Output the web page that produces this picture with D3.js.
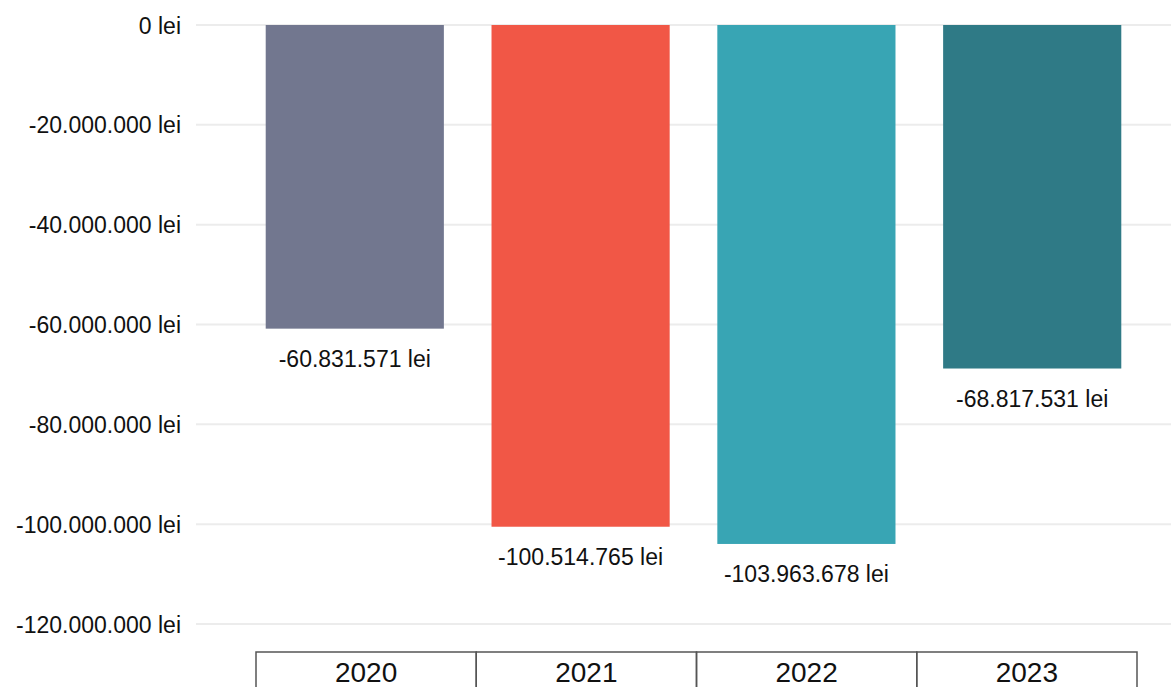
<!DOCTYPE html>
<html><head><meta charset="utf-8">
<script src="https://cdn.jsdelivr.net/npm/d3@7"></script>
<style>html,body{margin:0;padding:0;background:#fff;overflow:hidden}</style>
</head><body>
<svg id="c" width="1171" height="687"></svg>
<script>
const categories = ["2020", "2021", "2022", "2023"];
const values = [-60831571, -100514765, -103963678, -68817531];
const colors = ["#72778f", "#f15746", "#38a5b4", "#2f7a86"];
const yTicks = [0, -20000000, -40000000, -60000000, -80000000, -100000000, -120000000];

const svg = d3.select("#c");
const font = "'Liberation Sans', Arial, sans-serif";

const fmt = v => {
  const s = d3.format(",")(Math.round(v)).replace(/,/g, ".").replace(/\u2212/g, "-");
  return s + " lei";
};

const y = d3.scaleLinear().domain([-120000000, 0]).range([624, 25]);
const x = d3.scaleBand().domain(categories).range([242, 1145]).paddingInner(0.211).paddingOuter(0.105);
const xt = d3.scaleBand().domain(categories).range([256, 1137]);

// gridlines
svg.append("g").selectAll("line").data(yTicks).join("line")
  .attr("x1", 196).attr("x2", 1171)
  .attr("y1", d => y(d)).attr("y2", d => y(d))
  .attr("stroke", "#ececec").attr("stroke-width", 2);

// y axis labels
const yAxis = d3.axisLeft(y).tickValues(yTicks).tickFormat(fmt).tickSize(0).tickPadding(0);
const ga = svg.append("g").attr("transform", "translate(181,0)").call(yAxis);
ga.select(".domain").remove();
ga.selectAll("text").attr("font-family", font).attr("font-size", 23).attr("fill", "#111").attr("dy", "0.35em");

// bars
svg.append("g").selectAll("rect").data(categories).join("rect")
  .attr("x", d => x(d)).attr("width", x.bandwidth())
  .attr("y", (d, i) => y(0)).attr("height", (d, i) => y(values[i]) - y(0))
  .attr("fill", (d, i) => colors[i]);

// value labels
svg.append("g").selectAll("text").data(categories).join("text")
  .attr("x", d => x(d) + x.bandwidth() / 2)
  .attr("y", (d, i) => y(values[i]) + 38)
  .attr("text-anchor", "middle")
  .attr("font-family", font).attr("font-size", 23).attr("fill", "#111")
  .text((d, i) => fmt(values[i]));

// category table
const tb = svg.append("g");
tb.selectAll("rect").data(categories).join("rect")
  .attr("x", d => xt(d)).attr("width", xt.bandwidth())
  .attr("y", 652).attr("height", 60)
  .attr("fill", "none").attr("stroke", "#555").attr("stroke-width", 1.5);
tb.selectAll("text").data(categories).join("text")
  .attr("x", d => xt(d) + xt.bandwidth() / 2).attr("y", 682)
  .attr("text-anchor", "middle")
  .attr("font-family", font).attr("font-size", 28).attr("fill", "#111")
  .text(d => d);
</script>
</body></html>
